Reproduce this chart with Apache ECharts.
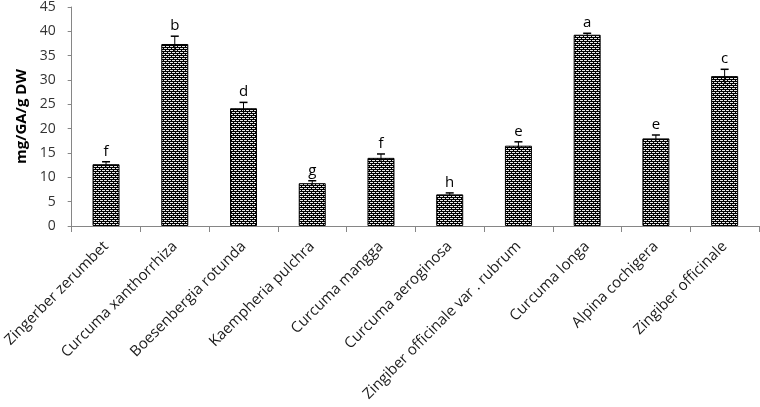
<!DOCTYPE html>
<html>
<head>
<meta charset="utf-8">
<script src="https://cdn.jsdelivr.net/npm/echarts@6/dist/echarts.min.js"></script>
<style>
html,body{margin:0;padding:0;background:#fff;}
#chart{width:760px;height:407px;}
</style>
</head>
<body>
<div id="chart"></div>
<script>
const categories = ["Zingerber zerumbet","Curcuma xanthorrhiza","Boesenbergia rotunda","Kaempheria pulchra","Curcuma mangga","Curcuma aeroginosa","Zingiber officinale var . rubrum","Curcuma longa","Alpina cochigera","Zingiber officinale"];
const values = [12.7, 37.4, 24.2, 8.8, 14.0, 6.5, 16.5, 39.3, 18.0, 30.8];
const errors = [0.5, 1.6, 1.2, 0.5, 0.8, 0.3, 0.8, 0.3, 0.7, 1.4];
const letters = ["f","b","d","g","f","h","e","a","e","c"];
const yTicks = [0,5,10,15,20,25,30,35,40,45];

const pc = document.createElement('canvas');
pc.width = 4; pc.height = 4;
const ctx = pc.getContext('2d');
ctx.fillStyle = '#000'; ctx.fillRect(0,0,4,4);
ctx.fillStyle = '#e8e8e8';
ctx.fillRect(0,0,3,1);
ctx.fillRect(2,2,2,1);
ctx.fillRect(0,2,1,1);

const chart = echarts.init(document.getElementById('chart'), null, {renderer:'canvas'});
const errData = values.map((v,i)=>[i, v, errors[i]]);
chart.setOption({
  animation:false,
  grid:{left:71, right:1, top:5, bottom:181, containLabel:false},
  xAxis:{
    type:'category', data:categories,
    axisLine:{lineStyle:{color:'#868686', width:1}},
    axisTick:{show:true, alignWithLabel:false, length:6, lineStyle:{color:'#868686'}},
    axisLabel:{rotate:45, interval:0, margin:18, color:'#1a1a1a', fontFamily:'Open Sans', fontSize:15}
  },
  yAxis:{
    type:'value', min:yTicks[0], max:yTicks[yTicks.length-1], interval:5,
    name:'mg/GA/g DW', nameLocation:'middle', nameGap:40, nameRotate:90,
    nameTextStyle:{fontWeight:'bold', fontSize:15, color:'#000', fontFamily:'Open Sans'},
    axisLine:{show:true, lineStyle:{color:'#868686'}},
    axisTick:{show:true, length:4, inside:false, lineStyle:{color:'#868686'}},
    splitLine:{show:false},
    axisLabel:{color:'#333', fontSize:14, fontFamily:'Open Sans', margin:16}
  },
  series:[
    {type:'bar', data:values, barWidth:27,
     itemStyle:{color:{image:pc, repeat:'repeat'}, borderColor:'#000', borderWidth:1}},
    {type:'custom', data:errData, z:5,
     renderItem:function(params, api){
       const i = api.value(0), v = api.value(1), e = api.value(2);
       const top = api.coord([i, v+e]);
       const bot = api.coord([i, v-e]);
       const x = top[0];
       return {type:'group', children:[
         {type:'line', shape:{x1:x, y1:top[1], x2:x, y2:bot[1]}, style:{stroke:'#000', lineWidth:1}},
         {type:'line', shape:{x1:x-4, y1:top[1], x2:x+4, y2:top[1]}, style:{stroke:'#000', lineWidth:1.5}},
         {type:'text', style:{text:letters[params.dataIndex], x:x, y:top[1]-3, textAlign:'center', textVerticalAlign:'bottom', fill:'#000', fontSize:15, fontFamily:'Open Sans'}}
       ]};
     }}
  ]
});
</script>
</body>
</html>
